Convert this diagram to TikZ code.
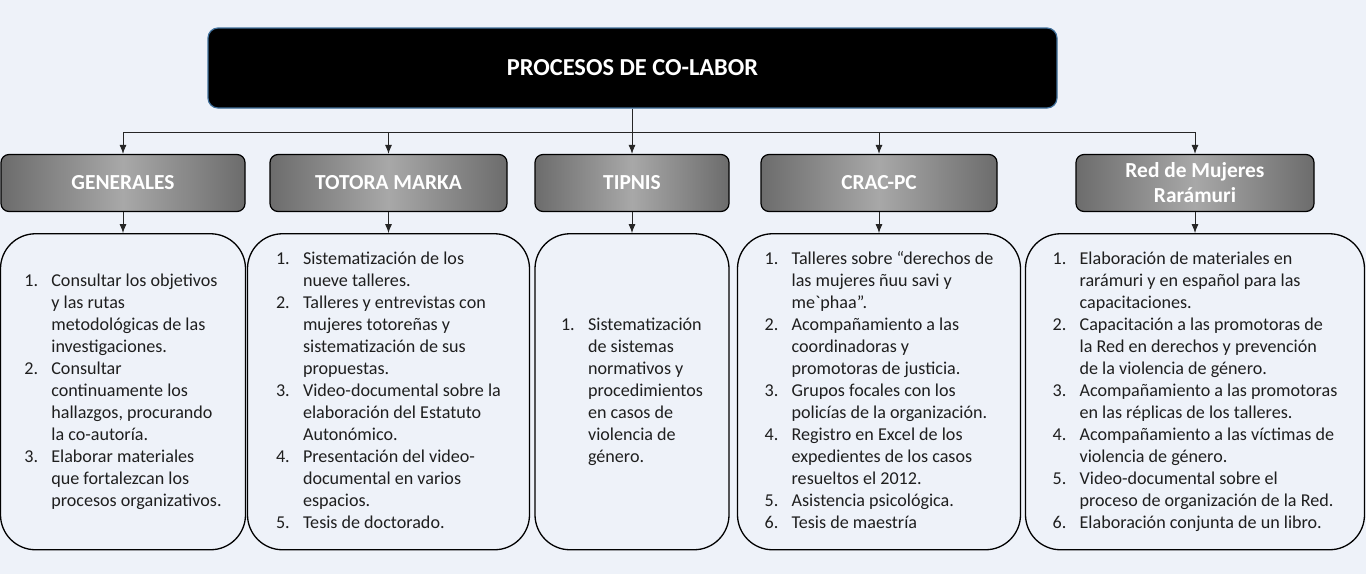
\documentclass[tikz,border=0pt]{standalone}
\usepackage{fontspec}
\setmainfont{Carlito}
\usetikzlibrary{positioning,arrows.meta}
\definecolor{fondo}{RGB}{238,242,249}
\definecolor{borde}{RGB}{65,113,156}
\definecolor{grisosc}{RGB}{108,108,108}
\definecolor{grisclaro}{RGB}{168,168,168}
\tikzstyle{titulo}=[
	draw=borde,
	line width=1.2,
	fill=black,
	rectangle,
	rounded corners=10,
	minimum width=849,
	minimum height=80,
	text=white,
	font=\bfseries\fontsize{24.4}{28}\selectfont]
\tikzstyle{cab}=[
	draw=black,
	line width=1.2,
	rectangle,
	rounded corners=8,
	minimum height=57,
	align=center,
	left color=grisosc,
	right color=grisosc,
	middle color=grisclaro,
	text=white,
	font=\bfseries\fontsize{21.4}{25}\selectfont]
\tikzstyle{lista}=[
	draw=black,
	line width=1.3,
	rectangle,
	rounded corners=35,
	minimum height=316,
	inner sep=0,
	text=black!88,
	font=\fontsize{18.1}{22}\selectfont]
\tikzstyle{flecha}=[
	draw=black!85,
	line width=0.9,
	-{Latex[length=9,width=7]}]
\newenvironment{pasos}{\begin{tabular}{@{}p{27pt}@{}l@{}}}{\end{tabular}}

\begin{document}
\begin{tikzpicture}[x=1pt,y=1pt]
	\fill[fondo] (0,0) rectangle (1366,-574);
	\useasboundingbox (0,0) rectangle (1366,-574);
	\node[titulo]	(top)	at (632.5,-68)	{PROCESOS DE CO-LABOR};
	\coordinate[below=24 of top] (bus);
	\begin{scope}
		\node[cab,minimum width=244]	(hgen)	at (123,-183)	{GENERALES};
		\node[cab,minimum width=237]	(htot)	at (388.5,-183)	{TOTORA MARKA};
		\node[cab,minimum width=194]	(htip)	at (632,-183)	{TIPNIS};
		\node[cab,minimum width=236]	(hcrac)	at (879,-183)	{CRAC-PC};
		\node[cab,minimum width=238]	(hred)	at (1195,-183)	{Red de Mujeres\\Rarámuri};
	\end{scope}
	\begin{scope}[node distance=21]
		\node[lista,minimum width=245]	(cgen)	[below=of hgen]	{\begin{pasos}
			1. & Consultar los objetivos\\
			& y las rutas\\
			& metodológicas de las\\
			& investigaciones.\\
			2. & Consultar\\
			& continuamente los\\
			& hallazgos, procurando\\
			& la co-autoría.\\
			3. & Elaborar materiales\\
			& que fortalezcan los\\
			& procesos organizativos.
		\end{pasos}};
		\node[lista,minimum width=282]	(ctot)	[below=of htot]	{\begin{pasos}
			1. & Sistematización de los\\
			& nueve talleres.\\
			2. & Talleres y entrevistas con\\
			& mujeres totoreñas y\\
			& sistematización de sus\\
			& propuestas.\\
			3. & Video-documental sobre la\\
			& elaboración del Estatuto\\
			& Autonómico.\\
			4. & Presentación del video-\\
			& documental en varios\\
			& espacios.\\
			5. & Tesis de doctorado.
		\end{pasos}};
		\node[lista,minimum width=194]	(ctip)	[below=of htip]	{\begin{pasos}
			1. & Sistematización\\
			& de sistemas\\
			& normativos y\\
			& procedimientos\\
			& en casos de\\
			& violencia de\\
			& género.
		\end{pasos}};
		\node[lista,minimum width=283]	(ccrac)	[below=of hcrac]	{\begin{pasos}
			1. & Talleres sobre “derechos de\\
			& las mujeres ñuu savi y\\
			& me\textasciigrave phaa”.\\
			2. & Acompañamiento a las\\
			& coordinadoras y\\
			& promotoras de justicia.\\
			3. & Grupos focales con los\\
			& policías de la organización.\\
			4. & Registro en Excel de los\\
			& expedientes de los casos\\
			& resueltos el 2012.\\
			5. & Asistencia psicológica.\\
			6. & Tesis de maestría
		\end{pasos}};
		\node[lista,minimum width=339]	(cred)	[below=of hred]	{\begin{pasos}
			1. & Elaboración de materiales en\\
			& rarámuri y en español para las\\
			& capacitaciones.\\
			2. & Capacitación a las promotoras de\\
			& la Red en derechos y prevención\\
			& de la violencia de género.\\
			3. & Acompañamiento a las promotoras\\
			& en las réplicas de los talleres.\\
			4. & Acompañamiento a las víctimas de\\
			& violencia de género.\\
			5. & Video-documental sobre el\\
			& proceso de organización de la Red.\\
			6. & Elaboración conjunta de un libro.
		\end{pasos}};
	\end{scope}
	\draw[draw=black!85,line width=0.9] (top) -- (bus);
	\foreach \h in {hgen,htot,htip,hcrac,hred}
		\draw[flecha] (bus) -| (\h);
	\foreach \h/\c in {hgen/cgen,htot/ctot,htip/ctip,hcrac/ccrac,hred/cred}
		\draw[flecha] (\h) -- (\c);
\end{tikzpicture}
\end{document}
